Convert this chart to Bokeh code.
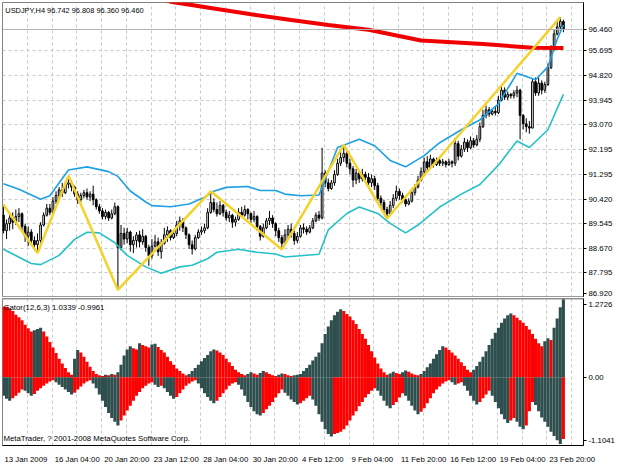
from bokeh.plotting import figure
from bokeh.layouts import column
from bokeh.models import ColumnDataSource, FixedTicker, Range1d, Label, Span, Grid
from bokeh.embed import file_html
from bokeh.resources import INLINE

# ---------------- data ----------------
open_ = [89.85, 89.30, 89.55, 89.75, 89.60, 89.80, 89.90, 89.45, 89.10, 89.25, 88.95, 88.80,
         88.95, 89.50, 89.85, 90.10, 89.95, 90.35, 90.55, 90.75, 90.65, 90.95,
         91.00, 90.85, 90.60, 90.40, 90.55, 90.65, 90.50, 90.60, 90.40, 90.15, 90.00, 89.80, 89.95, 89.75, 89.90, 90.15,
         88.70, 89.20, 89.00, 89.25, 88.80, 88.95, 89.15, 88.90, 89.10, 88.70, 88.40, 88.75, 88.90, 88.55, 88.85, 89.15,
         89.30, 89.05, 89.20, 89.50, 89.65, 89.40, 89.15, 88.80, 88.65, 89.05, 89.25, 89.30, 89.40, 89.95,
         90.30, 90.05, 89.90, 90.20, 89.95, 89.75, 89.85, 89.60, 89.70, 89.95, 89.85, 90.05, 89.90, 89.70, 89.80, 89.45,
         89.10, 89.40, 89.65, 89.75, 89.55, 89.30, 89.05,
         88.85, 89.15, 89.35, 89.20, 88.95, 89.10, 89.40, 89.35, 89.25, 89.40, 89.65, 89.85, 89.75, 91.35, 91.00, 90.80,
         91.00, 91.30, 91.70, 91.90,
         92.05, 91.70, 91.50, 91.10, 91.35, 91.15, 91.30, 91.20, 91.00, 91.15, 90.90, 90.45, 90.30, 90.05,
         89.90, 90.20, 90.45, 90.70, 90.55, 90.40, 90.25, 90.35, 90.65, 90.85, 91.10, 91.40, 91.75, 91.55, 91.85, 91.65,
         91.80, 91.70, 91.75, 91.65, 91.75, 91.70, 92.40, 91.95, 92.20, 92.45, 92.25, 92.50, 92.35, 92.55, 93.00, 93.40,
         93.60, 93.45, 93.55, 93.50, 93.95, 94.30, 94.05, 94.15, 94.10, 94.20, 94.30, 93.40, 93.10, 93.00, 92.95, 94.60,
         94.20, 94.55, 94.30, 94.50, 95.10, 95.75, 96.30, 96.55, 96.742]
high = [90.22, 89.70, 89.90, 89.95, 90.05, 90.10, 89.95, 89.55, 89.45, 89.35, 89.10, 89.20,
        89.60, 89.95, 90.25, 90.25, 90.50, 90.70, 90.85, 91.00, 91.05, 91.25,
        91.10, 90.90, 90.70, 90.65, 90.75, 90.80, 90.70, 90.90, 90.45, 90.25, 90.10, 90.05, 90.00, 90.05, 90.30, 90.20,
        89.50, 89.40, 89.40, 89.30, 89.10, 89.25, 89.30, 89.35, 89.15, 88.80, 89.00, 89.15, 89.05, 89.00, 89.40, 89.45,
        89.35, 89.30, 89.65, 89.80, 89.75, 89.45, 89.20, 88.95, 89.15, 89.35, 89.45, 89.55, 90.10, 90.70,
        90.45, 90.30, 90.35, 90.25, 90.05, 90.00, 89.90, 89.80, 90.10, 90.15, 90.20, 90.10, 89.95, 90.00, 89.85, 89.50,
        89.55, 89.75, 90.00, 89.85, 89.60, 89.40, 89.15,
        89.35, 89.50, 89.55, 89.30, 89.25, 89.50, 89.55, 89.45, 89.50, 89.75, 89.95, 90.00, 92.25, 91.45, 91.15, 91.10,
        91.45, 91.85, 92.10, 92.35,
        92.20, 91.85, 91.60, 91.50, 91.45, 91.50, 91.40, 91.35, 91.30, 91.25, 91.00, 90.55, 90.40, 90.15,
        90.35, 90.60, 90.90, 90.80, 90.65, 90.50, 90.45, 90.80, 90.95, 91.25, 91.55, 91.90, 91.95, 92.00, 91.90, 91.90,
        91.85, 91.85, 91.80, 91.85, 91.80, 92.60, 92.50, 92.35, 92.60, 92.55, 92.65, 92.60, 92.70, 93.15, 93.60, 93.75,
        93.70, 93.65, 93.70, 94.10, 94.45, 94.40, 94.25, 94.20, 94.30, 94.45, 94.35, 93.45, 93.30, 93.20, 94.70, 94.75,
        94.75, 94.65, 94.60, 95.25, 95.90, 96.45, 96.80, 96.90, 96.808]
low = [89.20, 89.00, 89.30, 89.35, 89.50, 89.60, 89.30, 88.90, 88.75, 88.80, 88.60, 88.50,
       88.85, 89.45, 89.80, 89.85, 89.95, 90.25, 90.40, 90.50, 90.60, 90.80,
       90.70, 90.50, 90.25, 90.30, 90.45, 90.40, 90.35, 90.20, 90.05, 89.90, 89.70, 89.70, 89.65, 89.70, 89.85, 87.19,
       88.60, 88.80, 88.85, 88.55, 88.50, 88.70, 88.70, 88.80, 88.55, 88.05, 88.30, 88.70, 88.40, 88.30, 88.80, 88.90,
       88.95, 89.00, 89.10, 89.30, 89.25, 89.00, 88.65, 88.45, 88.60, 89.00, 89.15, 89.20, 89.35, 89.90,
       89.95, 89.80, 89.85, 89.80, 89.65, 89.60, 89.40, 89.45, 89.65, 89.75, 89.80, 89.70, 89.55, 89.60, 89.30, 88.95,
       89.05, 89.35, 89.50, 89.40, 89.10, 88.90, 88.63,
       88.80, 89.00, 89.05, 88.80, 88.85, 89.05, 89.20, 89.15, 89.20, 89.35, 89.60, 89.65, 89.70, 90.85, 90.70, 90.75,
       90.90, 91.25, 91.60, 91.75,
       91.55, 91.30, 90.85, 90.95, 91.00, 91.05, 91.05, 90.90, 90.85, 90.75, 90.35, 90.10, 89.90, 89.73,
       89.85, 90.10, 90.35, 90.40, 90.30, 90.15, 90.20, 90.30, 90.55, 90.80, 91.05, 91.30, 91.40, 91.50, 91.55, 91.60,
       91.60, 91.60, 91.55, 91.60, 91.55, 91.60, 91.80, 91.90, 92.10, 92.10, 92.20, 92.25, 92.30, 92.45, 92.95, 93.30,
       93.35, 93.40, 93.40, 93.45, 93.90, 93.95, 93.95, 94.00, 94.00, 94.05, 92.55, 92.90, 92.80, 92.75, 92.95, 94.10,
       94.10, 94.15, 94.20, 94.45, 95.05, 95.70, 96.25, 96.40, 96.360]
close = [89.30, 89.55, 89.75, 89.60, 89.80, 89.90, 89.45, 89.10, 89.25, 88.95, 88.80, 88.95,
         89.50, 89.85, 90.10, 89.95, 90.35, 90.55, 90.75, 90.65, 90.95, 91.00,
         90.85, 90.60, 90.40, 90.55, 90.65, 90.50, 90.60, 90.40, 90.15, 90.00, 89.80, 89.95, 89.75, 89.90, 90.15, 88.70,
         89.20, 89.00, 89.25, 88.80, 88.95, 89.15, 88.90, 89.10, 88.70, 88.40, 88.75, 88.90, 88.55, 88.85, 89.15, 89.30,
         89.05, 89.20, 89.50, 89.65, 89.40, 89.15, 88.80, 88.65, 89.05, 89.25, 89.30, 89.40, 89.95, 90.30,
         90.05, 89.90, 90.20, 89.95, 89.75, 89.85, 89.60, 89.70, 89.95, 89.85, 90.05, 89.90, 89.70, 89.80, 89.45, 89.10,
         89.40, 89.65, 89.75, 89.55, 89.30, 89.05, 88.85,
         89.15, 89.35, 89.20, 88.95, 89.10, 89.40, 89.35, 89.25, 89.40, 89.65, 89.85, 89.75, 91.35, 91.00, 90.80, 91.00,
         91.30, 91.70, 91.90, 92.05,
         91.70, 91.50, 91.10, 91.35, 91.15, 91.30, 91.20, 91.00, 91.15, 90.90, 90.45, 90.30, 90.05, 89.90,
         90.20, 90.45, 90.70, 90.55, 90.40, 90.25, 90.35, 90.65, 90.85, 91.10, 91.40, 91.75, 91.55, 91.85, 91.65, 91.80,
         91.70, 91.75, 91.65, 91.75, 91.70, 92.40, 91.95, 92.20, 92.45, 92.25, 92.50, 92.35, 92.55, 93.00, 93.40, 93.60,
         93.45, 93.55, 93.50, 93.95, 94.30, 94.05, 94.15, 94.10, 94.20, 94.30, 93.40, 93.10, 93.00, 92.95, 94.60, 94.20,
         94.55, 94.30, 94.50, 95.10, 95.75, 96.30, 96.55, 96.75, 96.460]

# Bands (upper / lower), long moving average, zigzag
ub_idx = [0, 5, 12, 15, 21, 27, 34, 37, 41, 46, 48, 54, 60, 65, 68, 72, 79, 83, 88, 91,
          96, 102, 108, 111, 115, 120, 125, 130, 136, 141, 148, 154, 160, 166, 172, 176, 179, 181]
ub_val = [90.97, 90.77, 90.42, 90.54, 91.46, 91.57, 91.40, 91.23, 90.71, 90.32, 90.19, 90.15, 90.25, 90.49,
          90.70, 90.84, 90.87, 90.73, 90.73, 90.60, 90.54, 90.57, 92.26, 92.38, 92.55, 92.32, 91.80, 91.57,
          91.97, 92.43, 92.89, 93.24, 93.81, 94.90, 94.67, 95.13, 96.11, 96.62]
lb_idx = [0, 3, 9, 12, 18, 23, 27, 31, 36, 40, 46, 51, 57, 61, 66, 69, 76, 82, 88, 91,
          102, 105, 111, 115, 121, 125, 130, 134, 141, 148, 154, 160, 166, 170, 176, 181]
lb_val = [88.64, 88.47, 88.13, 88.09, 88.42, 88.99, 89.24, 89.22, 88.87, 88.42, 88.01, 87.78, 88.01, 88.07,
          88.30, 88.53, 88.64, 88.53, 88.47, 88.36, 88.46, 89.33, 89.91, 90.14, 89.91, 89.56, 89.22, 89.50,
          90.14, 90.60, 90.94, 91.63, 92.49, 92.26, 92.89, 94.15]
ma_idx = [0, 20, 40, 54, 68, 80, 93, 105, 118, 135, 155, 171, 181]
ma_val = [98.90, 98.40, 97.90, 97.45, 97.21, 97.00, 96.80, 96.62, 96.45, 96.07, 95.94, 95.81, 95.80]
zz_idx = [0, 11, 21, 37, 67, 90, 110, 124, 180]
zz_val = [90.22, 88.50, 91.25, 87.19, 90.70, 88.63, 92.35, 89.73, 96.90]

# Gator oscillator: upper histogram and (magnitude of) lower histogram
gator_up = [1.14, 1.14, 1.11, 1.07, 1.01, 0.97, 0.92, 0.85, 0.79, 0.74,
            0.76, 0.78, 0.80,
            0.74, 0.66, 0.57, 0.48, 0.39, 0.30, 0.22, 0.15, 0.08, 0.04,
            0.30, 0.44, 0.40, 0.33, 0.25, 0.17, 0.10, 0.05,
            0.03, 0.02, 0.04, 0.03, 0.05, 0.04, 0.08,
            0.20, 0.35, 0.45, 0.50, 0.47, 0.45, 0.55, 0.52, 0.50, 0.48, 0.53, 0.54, 0.49, 0.44, 0.40, 0.33,
            0.26, 0.20, 0.14, 0.10, 0.06, 0.03,
            0.05, 0.10, 0.15, 0.20, 0.26, 0.31, 0.36, 0.42, 0.45, 0.43, 0.40, 0.36, 0.30, 0.24, 0.18, 0.12,
            0.08, 0.05, 0.03,
            0.05, 0.08, 0.06, 0.04, 0.07, 0.10, 0.08, 0.05, 0.03, 0.02, 0.04, 0.06, 0.05, 0.03, 0.02, 0.03, 0.04,
            0.05, 0.10, 0.15, 0.20, 0.27, 0.33, 0.40, 0.55, 0.70, 0.82, 0.92, 1.00, 1.06, 1.10,
            1.07, 1.02, 0.98, 0.92, 0.86, 0.78, 0.70, 0.62, 0.52, 0.42, 0.32, 0.22, 0.14, 0.08, 0.04,
            0.06, 0.09, 0.07, 0.05, 0.08, 0.11, 0.09, 0.06, 0.04, 0.03, 0.05,
            0.10, 0.16, 0.22, 0.30, 0.37, 0.44, 0.50, 0.48, 0.44, 0.40, 0.35, 0.30, 0.24, 0.18, 0.12, 0.08,
            0.12, 0.18, 0.25, 0.33, 0.42, 0.52, 0.62, 0.72, 0.80, 0.88, 0.95, 1.00, 1.03, 1.00,
            0.96, 0.92, 0.88, 0.83, 0.77, 0.70, 0.62, 0.55,
            0.50, 0.58, 0.63, 0.60, 0.80, 0.95, 1.13, 1.27]
gator_down = [0.30, 0.35, 0.38, 0.34, 0.30, 0.25, 0.20, 0.22, 0.26, 0.30,
              0.27, 0.22, 0.18, 0.14, 0.10, 0.07, 0.05, 0.08, 0.12, 0.16,
              0.20, 0.24, 0.28, 0.25, 0.20, 0.15, 0.10, 0.07, 0.05, 0.10,
              0.18, 0.28, 0.38, 0.48, 0.58, 0.66, 0.72, 0.78, 0.70, 0.62,
              0.54, 0.46, 0.38, 0.30, 0.24, 0.18, 0.14, 0.10, 0.08, 0.12,
              0.16, 0.14, 0.18, 0.24, 0.30, 0.35, 0.32, 0.26, 0.20, 0.14,
              0.10, 0.07, 0.05, 0.10, 0.18, 0.26, 0.32, 0.38, 0.42, 0.38,
              0.32, 0.26, 0.20, 0.14, 0.10, 0.08, 0.12, 0.20, 0.30, 0.40,
              0.48, 0.55, 0.60, 0.62, 0.58, 0.52, 0.46, 0.40, 0.33, 0.26,
              0.20, 0.25, 0.30, 0.36, 0.40, 0.44, 0.42, 0.38, 0.34, 0.30,
              0.36, 0.46, 0.60, 0.72, 0.84, 0.92, 0.96, 0.92, 0.90, 0.88,
              0.84, 0.78, 0.70, 0.62, 0.55, 0.47, 0.40, 0.33, 0.27, 0.22,
              0.18, 0.22, 0.30, 0.38, 0.46, 0.50, 0.45, 0.40, 0.33, 0.26,
              0.30, 0.38, 0.46, 0.54, 0.60, 0.56, 0.50, 0.42, 0.34, 0.26,
              0.20, 0.15, 0.10, 0.07, 0.05, 0.08, 0.12, 0.10, 0.08, 0.14,
              0.22, 0.30, 0.38, 0.44, 0.40, 0.34, 0.28, 0.22, 0.30, 0.40,
              0.50, 0.60, 0.68, 0.74, 0.70, 0.66, 0.72, 0.80, 0.84, 0.78,
              0.55, 0.40, 0.45, 0.55, 0.65, 0.72, 0.80, 0.88, 0.95, 1.02, 1.08, 1.00]

price_ticks = [95.695, 94.820, 93.945, 93.070, 92.195, 91.295, 90.420, 89.545, 88.670, 87.795, 86.920]
price_labels = ["95.695", "94.820", "93.945", "93.070", "92.195", "91.295", "90.420", "89.545",
                "88.670", "87.795", "86.920"]
date_idx = [0, 16, 32, 48, 64, 80, 96, 112, 128, 144, 160, 176]
date_labels = ["13 Jan 2009", "16 Jan 04:00", "20 Jan 20:00", "23 Jan 12:00", "28 Jan 04:00",
               "30 Jan 20:00", "4 Feb 12:00", "9 Feb 04:00", "11 Feb 20:00", "16 Feb 12:00",
               "19 Feb 04:00", "23 Feb 20:00"]
gator_tick_labels = ["1.2726", "0.00", "-1.1041"]
header = "USDJPY,H4  96.742 96.808 96.360 96.460"
last_price = 96.460
last_price_label = "96.460"
gator_title = "Gator(12,6,3) 1.0339 -0.9961"
copyright_text = "MetaTrader, ? 2001-2008 MetaQuotes Software Corp."

# ---------------- styling ----------------
FONT = "Liberation Sans"
FS = "7.8px"
FS_HEAD = "7.4px"
RED = "#ff0000"
DARK = "#2f4f4f"
GRID = "#c8c8c8"
SEP = "#9a9a9a"
FRAME_W = 581
X0, X1 = -0.31, 187.5
Y0, Y1 = 86.92, 97.42
G0, G1 = -1.1041, 1.2726

n = len(close)
idx = list(range(n))
src = ColumnDataSource(dict(
    i=idx, h=high, l=low,
    top=[max(o, c) for o, c in zip(open_, close)],
    bot=[min(o, c) for o, c in zip(open_, close)],
    fill=["white" if c >= o else "black" for o, c in zip(open_, close)],
))

xr = Range1d(X0, X1)
grid_ticks = [8 * k - 0.3 for k in range(1, 24)]


def style_right_axis(ax):
    ax.axis_line_color = "black"
    ax.major_tick_line_color = "black"
    ax.major_tick_out = 3
    ax.major_tick_in = 0
    ax.minor_tick_line_color = None
    ax.major_label_standoff = 2
    ax.major_label_text_font = FONT
    ax.major_label_text_font_size = FS
    ax.major_label_text_color = "black"


p = figure(frame_width=FRAME_W, frame_height=295, x_range=xr, y_range=Range1d(Y0, Y1),
           x_axis_location=None, y_axis_location="right", toolbar_location=None,
           output_backend="svg", min_border_left=2, min_border_right=36, min_border_top=2,
           min_border_bottom=0, outline_line_color="#808080", background_fill_color="white",
           border_fill_color="white")
# bottom label sits just inside the pane edge; the last price is also marked on the scale
axis_ticks = [last_price] + price_ticks[:-1] + [Y0 + 0.14]
axis_labels = [last_price_label] + price_labels
p.yaxis.ticker = FixedTicker(ticks=axis_ticks)
p.yaxis.major_label_overrides = {t: s for t, s in zip(axis_ticks, axis_labels)}
style_right_axis(p.yaxis[0])
p.ygrid.visible = False
p.xgrid.visible = False
p.add_layout(Grid(dimension=1, ticker=FixedTicker(ticks=price_ticks[:-1]), grid_line_color=GRID,
                  grid_line_dash="3 3"))
p.add_layout(Grid(dimension=0, ticker=FixedTicker(ticks=grid_ticks), grid_line_color=GRID,
                  grid_line_dash="3 3"))

p.add_layout(Span(location=last_price, dimension="width", line_color="#b4b4b4", line_width=1))
p.add_layout(Span(location=Y0, dimension="width", line_color=SEP, line_width=3))

p.segment(x0="i", y0="l", x1="i", y1="h", source=src, line_color="black", line_width=1)
p.vbar(x="i", width=0.55, top="top", bottom="bot", source=src, fill_color="fill",
       line_color="black", line_width=1)
p.line(ub_idx, ub_val, line_color="#1ea0e4", line_width=1.6)
p.line(lb_idx, lb_val, line_color="#25c0c8", line_width=1.6)
p.line(ma_idx, ma_val, line_color="#f00000", line_width=4)
p.line(zz_idx, zz_val, line_color="#f5d22a", line_width=2.5)

p.add_layout(Label(x=0.6, y=97.30, text=header, text_font=FONT, text_font_size=FS_HEAD,
                   text_color="black", text_baseline="top"))

# ---------------- gator pane ----------------
up_colors = [RED] + [DARK if gator_up[i] > gator_up[i - 1] else RED for i in range(1, n)]
dn_colors = [DARK] + [DARK if gator_down[i] > gator_down[i - 1] else RED for i in range(1, n)]
gsrc = ColumnDataSource(dict(i=idx, up=gator_up, dn=[-v for v in gator_down],
                             uc=up_colors, dc=dn_colors))

g = figure(frame_width=FRAME_W, frame_height=147, x_range=xr, y_range=Range1d(G0, G1),
           y_axis_location="right", toolbar_location=None, output_backend="svg",
           min_border_left=2, min_border_right=36, min_border_top=1, min_border_bottom=0,
           outline_line_color="#808080", background_fill_color="white", border_fill_color="white")
g.vbar(x="i", width=1.0, top="up", bottom=0, source=gsrc, fill_color="uc", line_color=None)
g.vbar(x="i", width=1.0, top=0, bottom="dn", source=gsrc, fill_color="dc", line_color=None)
g.add_layout(Span(location=G1, dimension="width", line_color=SEP, line_width=2))

gticks = [1.178, 0.0, -1.024]
g.yaxis.ticker = FixedTicker(ticks=gticks)
g.yaxis.major_label_overrides = {t: s for t, s in zip(gticks, gator_tick_labels)}
style_right_axis(g.yaxis[0])
g.ygrid.visible = False
g.xgrid.visible = False
g.add_layout(Grid(dimension=0, ticker=FixedTicker(ticks=grid_ticks), grid_line_color=GRID,
                  grid_line_dash="3 3"))

px_per_bar = FRAME_W / (X1 - X0)
label_pos = [round(d - 0.3 + (3 + 1.85 * len(s)) / px_per_bar, 2) for d, s in zip(date_idx, date_labels)]
xa = g.xaxis[0]
xa.ticker = FixedTicker(ticks=label_pos)
xa.major_label_overrides = {t: s for t, s in zip(label_pos, date_labels)}
xa.axis_line_color = "black"
xa.major_tick_line_color = None
xa.minor_tick_line_color = None
xa.major_label_standoff = 3
xa.major_label_text_font = FONT
xa.major_label_text_font_size = FS
xa.major_label_text_color = "black"

g.add_layout(Label(x=0.0, y=1.20, text=gator_title, text_font=FONT, text_font_size=FS,
                   text_color="black", text_baseline="top"))
g.add_layout(Label(x=0.0, y=-1.06, text=copyright_text, text_font=FONT, text_font_size=FS,
                   text_color="black", text_baseline="bottom"))

layout = column(p, g, spacing=0)
open("out.html", "w").write(file_html(layout, INLINE, title="USDJPY H4"))
